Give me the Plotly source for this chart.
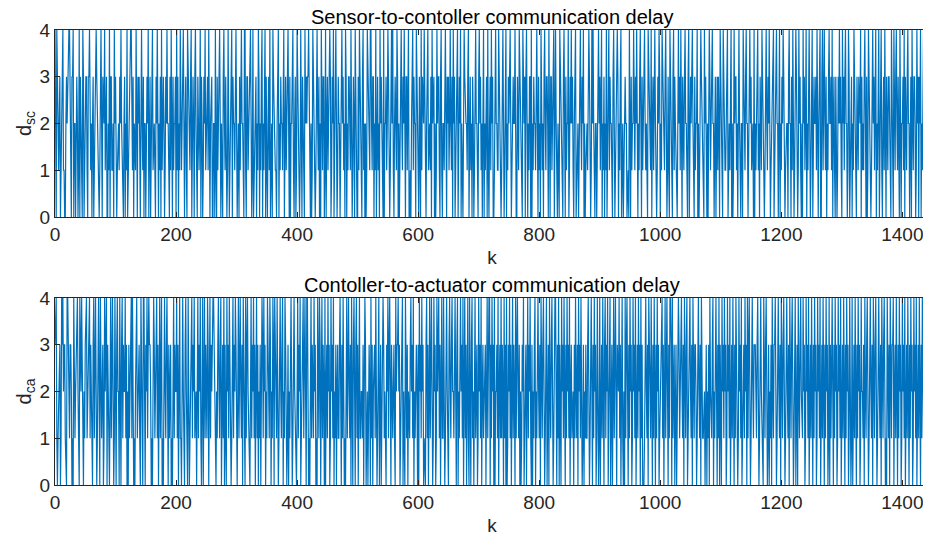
import plotly.graph_objects as go

# Sensor-to-controller delay d_sc, one digit per sample k (read/estimated from the picture)
sc_chunks = [
    "40042213301244110023234442103340220132014032104302",
    "23310334212023012443211013420322412300214033112042",
    "32012213242110230214012234421302114203231024213022",
    "01324033023412210324202130412320132422103142031223",
    "04130214112342023104321134013203421032124032013241",
    "22314202330022041031234202103421320142012340322134",
    "20120312422104410331223420140123302143021340213403",
    "10231402204321110234021322134023124420302234102301",
    "43320142032104232334210201432201342130204213301402",
    "31224301324013420132201342312043021332142013204210",
    "03143220341202014322144213302140331204232104022312",
    "43201342410232143020134213242033124001023413220432",
    "10320413224310234122130423302014233103410221342032",
    "31242130423012240132402102432221340231203201342210",
    "34231203402133041023142300134221143220134201240213",
    "23420133224100321433210422303420213304021322134203",
    "12043120342133204103312240342102104322103420312240",
    "13242310234012201342132402012213432014242102201342",
    "31240213021402341322103420122430213402201132201104",
    "20312243132400213420312342120043221402313420013243",
    "02143221342013104322034132100242314203213422103401",
    "32342103122402013432210423102024312342201302313204",
    "22104221123402213402014233120342102204321342201342",
    "31220402133412032143220134213240012234012342203402",
    "13243201222034220314201343201423102042312402134201",
    "34013223142023400341242130213422314023103201324231",
    "04231342201430133021432103213224031213420301432201",
    "34231240213402341023142032133210432042134213204102",
    "23140321342201304213320142303240213402132410202134",
    "32014223134021243201340231402313204201341213024312",
]

# Controller-to-actuator delay d_ca, one digit per sample k (read/estimated from the picture)
ca_chunks = [
    "34410122301434233100443213320104312344210422431021",
    "34412334132003412420134204112301423403210241342014",
    "20342204203413224130203123414201023412331042104420",
    "32413433201024312341302413401034213420312301024132",
    "24130241103421034200420123413241220341324102402413",
    "21430241324443100213421340231403104231420012413243",
    "10241342130422041342100241324130241302130243142302",
    "14321430214304331420134213402143201302134201342100",
    "24132401234134204420102413214230104214302413204023",
    "14230142314021302311342031420102413421304203420341",
    "30241122130443012013204130233142013401302443121032",
    "41342031123104233423013340210421302113423140213320",
    "30423142301003413024134201423014234130241142013421",
    "03421342213420340213423140441302410420341203412301",
    "42314023122302413440314230402231402314132041304013",
    "24130241320413421302013240133024132410302134021342",
    "13042134201340130421342013442031403104231420314231",
    "40231220314213042314201302131134201342031423014201",
    "40231420341324013401302413420322413024102041342031",
    "42301423140231423041300013421304331420314203142301",
    "22341302413420314430412301302443124421304213401134",
    "21304213320134213042112201302130421134021342031403",
    "10423142301423140231420314200142314022314230413420",
    "13421333213420134211042134201302130421334201342130",
    "42134201342130421342013401304213421142301423140231",
    "42031423014231402314203142301403144203142301423140",
    "23142031423014201402314203142301422130421342013421",
    "30421342013421304213420104213042133402314203142301",
    "42314023142031423014231402314203141134213042130201",
    "34213042134201342130421342013421304402314203142301",
]

d_sc = [int(c) for c in "".join(sc_chunks)]
d_ca = [int(c) for c in "".join(ca_chunks)]
k_sc = list(range(len(d_sc)))
k_ca = list(range(len(d_ca)))

x_ticks = [0, 200, 400, 600, 800, 1000, 1200, 1400]
y_ticks = [0, 1, 2, 3, 4]
x_max = 1444
titles = ["Sensor-to-contoller communication delay",
          "Contoller-to-actuator communication delay"]
ylabels = ["d<sub>sc</sub>", "d<sub>ca</sub>"]

FONT = "Liberation Sans, Arial, Helvetica, sans-serif"
LINE = "#0072BD"
AX = "#262626"
FS = 19

fig = go.Figure()
fig.add_trace(go.Scatter(x=k_sc, y=d_sc, mode="lines",
                         line=dict(color=LINE, width=1.2), xaxis="x", yaxis="y",
                         showlegend=False, hoverinfo="skip"))
fig.add_trace(go.Scatter(x=k_ca, y=d_ca, mode="lines",
                         line=dict(color=LINE, width=1.2), xaxis="x2", yaxis="y2",
                         showlegend=False, hoverinfo="skip"))

common_axis = dict(showline=True, linecolor=AX, linewidth=1, mirror="ticks",
                   ticks="inside", ticklen=5, tickcolor=AX, tickwidth=1,
                   showgrid=False, zeroline=False, automargin=False,
                   tickfont=dict(family=FONT, size=FS, color=AX))

top_dom = [0.589, 1.0]
bot_dom = [0.0, 0.411]

# page body has an 8px margin, so the figure is sized/offset to compensate
fig.update_layout(
    template="none",
    width=923, height=531,
    margin=dict(l=47, r=2, t=22, b=54),
    paper_bgcolor="white", plot_bgcolor="white",
    font=dict(family=FONT, size=FS, color=AX),
    xaxis=dict(common_axis, domain=[0, 1], anchor="y", range=[0, x_max],
               tickvals=x_ticks,
               title=dict(text="k", font=dict(family=FONT, size=FS, color=AX), standoff=6)),
    yaxis=dict(common_axis, domain=top_dom, anchor="x", range=[0, 4],
               tickvals=y_ticks,
               title=dict(text=ylabels[0], font=dict(family=FONT, size=FS + 1, color=AX), standoff=2)),
    xaxis2=dict(common_axis, domain=[0, 1], anchor="y2", range=[0, x_max],
                tickvals=x_ticks,
                title=dict(text="k", font=dict(family=FONT, size=FS, color=AX), standoff=6)),
    yaxis2=dict(common_axis, domain=bot_dom, anchor="x2", range=[0, 4],
                tickvals=y_ticks,
                title=dict(text=ylabels[1], font=dict(family=FONT, size=FS + 1, color=AX), standoff=2)),
)

for title, dom in zip(titles, [top_dom, bot_dom]):
    fig.add_annotation(text=title, xref="paper", yref="paper", x=0.5, y=dom[1],
                       xanchor="center", yanchor="bottom", showarrow=False, yshift=0,
                       font=dict(family=FONT, size=20, color="#000000"))

fig.write_html("out.html")
